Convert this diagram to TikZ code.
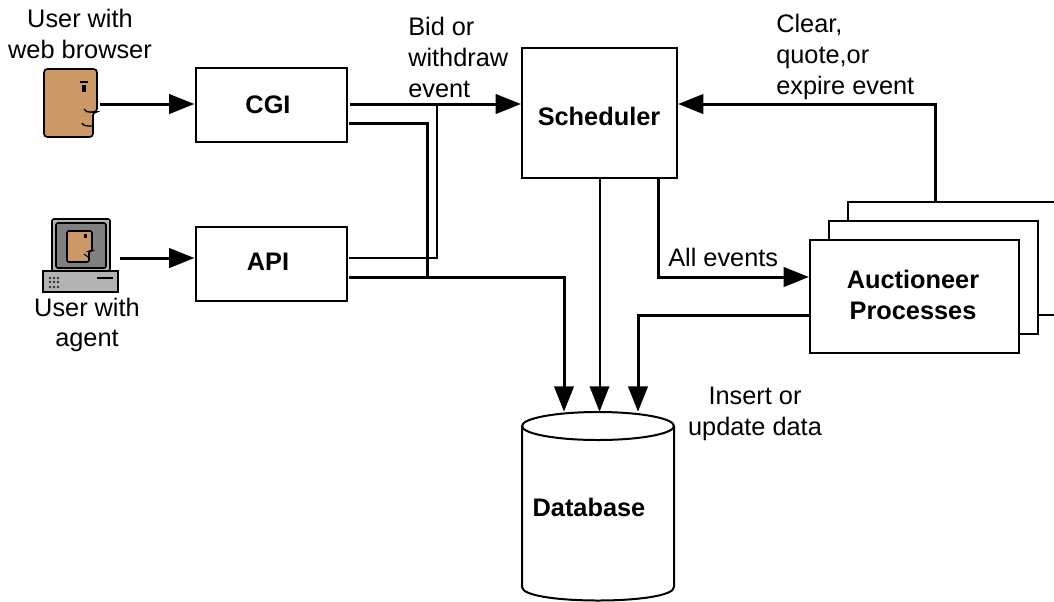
\documentclass[tikz,border=0pt]{standalone}
\usepackage{fontspec}
\setmainfont{Liberation Sans}
\usetikzlibrary{arrows.meta}
\definecolor{skintone}{HTML}{CC9966}
\definecolor{casegray}{HTML}{B3B3B3}
\definecolor{screengray}{HTML}{808080}
\tikzset{
    procbox/.style={draw, line width=1.5pt, fill=white, inner sep=0pt},
    boxlabel/.style={inner sep=0pt, align=center, font=\fontsize{19}{23}\selectfont\bfseries},
    caption/.style={inner sep=0pt, align=center, font=\fontsize{19}{23}\selectfont},
    heavy/.style={line width=2.25pt},
    light/.style={line width=1.5pt},
    tip/.style={-{Triangle[length=19pt,width=14.5pt]}}
}

\begin{document}
\begin{tikzpicture}[x=0.75pt,y=-0.75pt]

\clip (0,0) rectangle (1054,601);

% Auctioneer stack, back to front
\node[procbox, minimum width=157.5pt, minimum height=84.75pt] (auctback) at (953,258.5) {};
\node[procbox, minimum width=156.75pt, minimum height=84.75pt] (auctmid) at (933.5,277.5) {};
\node[procbox, minimum width=156.75pt, minimum height=84.75pt] (auct) at (914.5,296.5) {};
\node[boxlabel] (auctlabel) at (913,295) {Auctioneer\\Processes};

% Boxes
\node[procbox, minimum width=113.25pt, minimum height=55.5pt] (cgi) at (271,104.5) {};
\node[boxlabel] (cgilabel) at (268,105) {CGI};
\node[procbox, minimum width=113.25pt, minimum height=55.5pt] (api) at (271,264) {};
\node[boxlabel] (apilabel) at (268,262) {API};
\node[procbox, minimum width=116.25pt, minimum height=97.5pt] (sched) at (599.5,113) {};
\node[boxlabel] (schedlabel) at (599,116) {Scheduler};

% Database
\node[inner sep=0pt, minimum width=114pt, minimum height=141pt] (db) at (598,506) {};
\draw[line width=1.5pt] (598,426) circle [x radius=76, y radius=14];
\draw[line width=1.5pt] (522,426) -- (522,587) .. controls (522,605) and (674,605) .. (674,587) -- (674,426);
\node[boxlabel] (dblabel) at (589,507) {Database};

% Face icon
\draw[line width=1.2pt, fill=skintone, rounded corners=2.5pt]
    (44,69) -- (97,69) -- (97,112) -- (93,112) -- (93,137) -- (44,137) -- cycle;
\draw[line width=1pt] (80,82) -- (88,82);
\fill (82,85) rectangle (86,92);
\draw[line width=1pt] (84,109) .. controls (85,112) and (87,112) .. (94,112);
\draw[line width=1pt] (82,123) .. controls (83,126) and (87,126) .. (92,126);

% Computer icon
\draw[line width=1.2pt, fill=casegray, rounded corners=1.5pt] (52,219) rectangle (110,271);
\draw[line width=1.2pt, fill=screengray, rounded corners=1.5pt] (56,223) rectangle (106,268);
\draw[line width=1.2pt, fill=skintone, rounded corners=1.5pt]
    (67,231) -- (92,231) -- (92,251) -- (89,251) -- (89,262) -- (67,262) -- cycle;
\fill (84,234) rectangle (87,238);
\draw[line width=0.8pt] (84,254) -- (88,257);
\draw[line width=1.2pt, fill=casegray] (43,271) rectangle (118,292);
\foreach \i in {50,54,58}
    \foreach \j in {278,282,287}
        {\fill[black!80] (\i,\j) circle (1.1pt);}
\draw[line width=1.2pt] (97,278) -- (113,278);

% Ports and bends
\coordinate (faceport) at (100,104);
\coordinate (pcport) at (120,258);
\coordinate (cgiout) at (350,104);
\coordinate (cgilow) at (349,123);
\coordinate (apiup) at (349,258);
\coordinate (apilow) at (349,277);
\coordinate (dbleft) at (564,277);
\coordinate (dbright) at (638,315);
\coordinate (alleventsbend) at (658,277);
\coordinate (clearbend) at (935,104);
\coordinate (schedin) at (sched.west |- cgiout);
\coordinate (apijoin) at (437,104);
\coordinate (cgijoin) at (427,277);

% Connectors
\draw[heavy, tip] (faceport) -- (cgi.west |- faceport);
\draw[heavy, tip] (pcport) -- (api.west |- pcport);
\draw[heavy, tip] (cgiout) -- (schedin);
\draw[heavy] (cgilow) -- (cgilow -| cgijoin) -- (cgijoin);
\draw[light] (apiup) -- (apiup -| apijoin) -- (apijoin);
\draw[heavy, tip] (apilow) -- (dbleft) -- (dbleft |- db.north);
\draw[light, tip] (sched.south) -- (sched.south |- db.north);
\draw[heavy, tip] (auct.west |- dbright) -- (dbright) -- (dbright |- db.north);
\draw[heavy, tip] (alleventsbend |- sched.south) -- (alleventsbend) -- (alleventsbend -| auct.west);
\draw[heavy, tip] (clearbend |- auctback.north) -- (clearbend) -- (clearbend -| sched.east);

% Captions
\node[caption] (usera) at (80,34) {User with\\web browser};
\node[caption] (userb) at (87,325) {User with\\agent};
\node[caption, align=left, anchor=west] (bidtext) at (408,57.5) {Bid or\\withdraw\\event};
\node[caption, align=left, anchor=west] (cleartext) at (776,57) {Clear,\\quote,or\\expire event};
\node[caption, anchor=west] (alltext) at (668,257) {All events};
\node[caption] (inserttext) at (755,414) {Insert or\\update data};

\end{tikzpicture}
\end{document}
